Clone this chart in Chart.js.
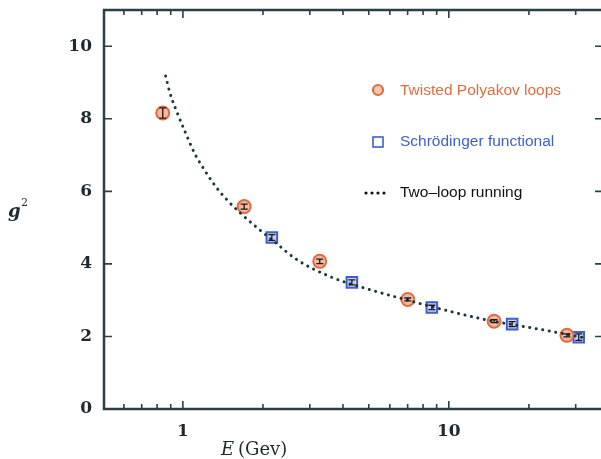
<!DOCTYPE html>
<html>
<head>
<meta charset="utf-8">
<script src="https://cdn.jsdelivr.net/npm/chart.js@4.4.1/dist/chart.umd.min.js"></script>
<style>
  html, body { margin: 0; padding: 0; background: #fff; overflow: hidden; }
</style>
</head>
<body>
<canvas id="c" width="605" height="459"></canvas>
<script>
// Twisted Polyakov loops
const polyE = [0.84, 1.70, 3.27, 7.01, 14.8, 27.8];
const polyG = [8.16, 5.58, 4.07, 3.02, 2.42, 2.03];
const polyErr = [0.14, 0.07, 0.06, 0.04, 0.04, 0.04];

// Schrodinger functional
const sfE = [2.16, 4.32, 8.63, 17.3, 30.8];
const sfG = [4.73, 3.49, 2.80, 2.34, 1.98];
const sfErr = [0.08, 0.07, 0.06, 0.07, 0.09];

// two-loop running curve
const runE = [0.861, 0.894, 0.947, 1.017, 1.11, 1.21, 1.339, 1.476, 1.667, 1.9, 2.26, 2.68, 3.66, 5.0, 7.0, 10, 14, 20, 26, 32];
const runG = [9.18, 8.71, 8.21, 7.66, 7.03, 6.57, 6.10, 5.74, 5.36, 5.0, 4.55, 4.12, 3.62, 3.3, 3.0, 2.7, 2.45, 2.25, 2.1, 1.97];

const xTicks = [0.6, 0.7, 0.8, 0.9, 1, 2, 3, 4, 5, 6, 7, 8, 9, 10, 20, 30];
const xLabels = [1, 10];
const yTicks = [0, 2, 4, 6, 8, 10];

const axisColor = '#2b3f47';
const orange = '#df6d44';
const blue = '#3e5fd0';

const toPts = (xs, ys) => xs.map((x, i) => ({ x: x, y: ys[i] }));

// frame, inward ticks, error bars, legend, axis titles
const decor = {
  id: 'decor',
  beforeDatasetsDraw(chart) {
    const { ctx, chartArea: a, scales: { x, y } } = chart;
    ctx.save();
    ctx.strokeStyle = axisColor;
    ctx.lineWidth = 2.5;
    ctx.strokeRect(a.left, a.top, a.right - a.left, a.bottom - a.top);
    ctx.lineWidth = 1.6;
    xTicks.forEach(v => {
      const px = x.getPixelForValue(v);
      const len = xLabels.includes(v) ? 8 : 5;
      ctx.beginPath();
      ctx.moveTo(px, a.bottom); ctx.lineTo(px, a.bottom - len);
      ctx.moveTo(px, a.top); ctx.lineTo(px, a.top + len);
      ctx.stroke();
    });
    yTicks.forEach(v => {
      const py = y.getPixelForValue(v);
      ctx.beginPath();
      ctx.moveTo(a.left, py); ctx.lineTo(a.left + 8, py);
      ctx.moveTo(a.right, py); ctx.lineTo(a.right - 8, py);
      ctx.stroke();
    });
    ctx.restore();
  },
  afterDatasetsDraw(chart) {
    const { ctx, scales: { x, y } } = chart;
    ctx.save();
    ctx.strokeStyle = '#1a1a1a';
    ctx.lineWidth = 1.3;
    const bars = (xs, ys, es) => xs.forEach((e, i) => {
      const px = x.getPixelForValue(e);
      const top = y.getPixelForValue(ys[i] + es[i]);
      const bot = y.getPixelForValue(ys[i] - es[i]);
      ctx.beginPath();
      ctx.moveTo(px, top); ctx.lineTo(px, bot);
      ctx.moveTo(px - 3.5, top); ctx.lineTo(px + 3.5, top);
      ctx.moveTo(px - 3.5, bot); ctx.lineTo(px + 3.5, bot);
      ctx.stroke();
    });
    bars(polyE, polyG, polyErr);
    bars(sfE, sfG, sfErr);

    // legend
    ctx.font = '15.5px "Liberation Sans", Arial, sans-serif';
    ctx.textBaseline = 'middle';
    ctx.textAlign = 'left';
    ctx.lineWidth = 2.2;
    ctx.strokeStyle = orange;
    ctx.fillStyle = '#f6c8b4';
    ctx.beginPath(); ctx.arc(378, 90, 5, 0, Math.PI * 2); ctx.fill(); ctx.stroke();
    ctx.fillStyle = orange;
    ctx.fillText('Twisted Polyakov loops', 400, 91);
    ctx.strokeStyle = blue;
    ctx.lineWidth = 1.6;
    ctx.strokeRect(373, 137, 10, 10);
    ctx.fillStyle = blue;
    ctx.fillText('Schrödinger functional', 400, 142);
    ctx.fillStyle = '#111';
    [366, 372, 378, 384].forEach(d => { ctx.beginPath(); ctx.arc(d, 193, 1.6, 0, Math.PI * 2); ctx.fill(); });
    ctx.fillText('Two\u2013loop running', 400, 193);

    // axis titles
    ctx.fillStyle = '#1e2a30';
    ctx.textBaseline = 'alphabetic';
    ctx.font = 'italic 18px "DejaVu Serif", serif';
    ctx.fillText('E', 221, 455);
    ctx.font = '18px "DejaVu Serif", serif';
    ctx.fillText('(Gev)', 238, 455);
    ctx.font = 'italic bold 18px "DejaVu Serif", serif';
    ctx.fillText('g', 8, 217);
    ctx.font = '11px "DejaVu Serif", serif';
    ctx.fillText('2', 21, 206);
    ctx.restore();
  }
};

new Chart(document.getElementById('c'), {
  type: 'scatter',
  data: {
    datasets: [
      {
        label: 'Two-loop running',
        type: 'line',
        data: toPts(runE, runG),
        borderColor: '#1d3640',
        borderWidth: 3,
        borderDash: [0.1, 6.5],
        borderCapStyle: 'round',
        cubicInterpolationMode: 'monotone',
        pointRadius: 0,
        fill: false
      },
      {
        label: 'Twisted Polyakov loops',
        data: toPts(polyE, polyG),
        pointStyle: 'circle',
        pointRadius: 6.5,
        borderWidth: 2,
        borderColor: orange,
        backgroundColor: '#f3b89e'
      },
      {
        label: 'Schrödinger functional',
        data: toPts(sfE, sfG),
        pointStyle: 'rect',
        pointRadius: 7.5,
        borderWidth: 2,
        borderColor: blue,
        backgroundColor: '#c9d1f2'
      }
    ]
  },
  options: {
    responsive: false,
    animation: false,
    layout: { autoPadding: false, padding: { top: 10, right: 2, left: 0, bottom: 0 } },
    plugins: { legend: { display: false }, tooltip: { enabled: false } },
    scales: {
      x: {
        type: 'logarithmic',
        min: 0.505,
        max: 38,
        border: { display: false },
        grid: { display: false, drawTicks: false },
        afterBuildTicks: s => { s.ticks = xLabels.map(v => ({ value: v })); },
        afterFit: s => { s.height = 50; s.paddingLeft = 0; s.paddingRight = 0; },
        ticks: {
          padding: 12,
          color: '#1e2a30',
          font: { family: '"DejaVu Serif", serif', size: 17, weight: 'bold' },
          callback: v => String(v),
          autoSkip: false,
          maxRotation: 0
        }
      },
      y: {
        min: 0,
        max: 11,
        border: { display: false },
        grid: { display: false, drawTicks: false },
        afterBuildTicks: s => { s.ticks = yTicks.map(v => ({ value: v })); },
        afterFit: s => { s.width = 104; s.paddingTop = 0; s.paddingBottom = 0; },
        ticks: {
          padding: 12,
          color: '#1e2a30',
          font: { family: '"DejaVu Serif", serif', size: 17, weight: 'bold' }
        }
      }
    }
  },
  plugins: [decor]
});
</script>
</body>
</html>
